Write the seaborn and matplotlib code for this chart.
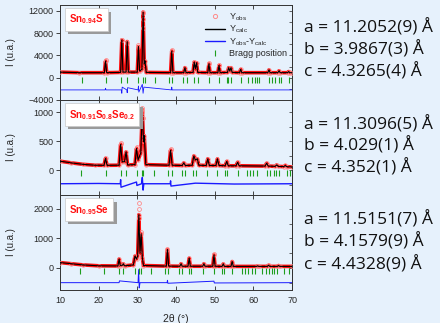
import matplotlib
matplotlib.use("Agg")
import matplotlib.pyplot as plt
import matplotlib.patheffects as pe
from matplotlib.lines import Line2D
import seaborn as sns

# ---- Sn0.94S ----
top_2t = [10, 15, 21.5, 21.8, 22.1, 25.7, 26.0, 26.3, 27.1, 27.4, 27.7, 30.0, 30.3, 30.6,
          31.2, 31.5, 31.8, 32.0, 32.3, 38.6, 38.9, 39.2, 42.0, 42.3, 42.6, 44.4, 44.7, 45.0,
          45.3, 45.6, 48.2, 48.5, 48.8, 50.8, 51.1, 51.4, 53.3, 53.6, 53.9, 54.2, 54.5,
          56.4, 56.7, 57.0, 63.7, 64.0, 64.3, 66.3, 66.6, 66.9, 68.8, 69.1, 69.4, 70]
top_i = [1000, 900, 900, 3000, 900, 950, 6800, 1000, 1000, 6500, 1000, 1000, 5600, 1200,
         1500, 11800, 2500, 3000, 950, 900, 4800, 900, 900, 1800, 900, 950, 2800, 1600,
         2700, 950, 900, 2500, 900, 900, 2200, 900, 950, 1800, 1200, 1800, 950,
         900, 1500, 900, 900, 1400, 900, 900, 1250, 900, 900, 1100, 900, 900]
top_obs_2t = [21.8, 26.0, 27.4, 30.3, 31.4, 31.5, 31.6, 38.9, 44.7, 48.5, 51.1]
top_obs_i = [3100, 6700, 6300, 5800, 10500, 11700, 9000, 5000, 2900, 2600, 2300]
top_diff_2t = [10, 21.7, 21.8, 21.9, 25.9, 26.0, 26.1, 27.3, 27.4, 27.5, 30.2, 30.3, 30.4,
               31.3, 31.5, 31.7, 38.8, 38.9, 39.0, 70]
top_diff_i = [-2200, -2200, -1900, -2200, -2200, -2800, -1700, -2200, -2700, -1800, -2200,
              -1500, -2600, -1200, -2800, -1700, -2200, -1700, -2200, -2200]
top_bragg = [15.8, 21.8, 25.9, 27.4, 30.3, 31.5, 32.0, 34.6, 38.3, 39.0, 41.7, 42.8, 44.7,
             45.6, 48.5, 51.0, 53.1, 53.5, 54.1, 56.7, 58.7, 59.6, 60.3, 60.9, 61.5, 63.9,
             64.7, 65.6, 66.5, 67.2, 69.1, 69.9]

# ---- Sn0.91S0.8Se0.2 ----
mid_2t = [10, 13, 16, 19, 21.4, 21.8, 22.2, 25.3, 25.7, 26.1, 26.7, 27.1, 27.5, 29.4, 29.8,
          30.2, 30.9, 31.3, 31.6, 31.8, 32.2, 38.2, 38.6, 39.0, 41.6, 42.0, 42.4, 44.2, 44.6,
          45.0, 45.5, 45.9, 47.8, 48.2, 48.6, 50.3, 50.7, 51.1, 52.7, 53.1, 53.5, 55.5, 55.9,
          56.3, 63.0, 63.4, 63.8, 65.6, 66.0, 66.4, 67.8, 68.2, 68.6, 70]
mid_i = [160, 130, 105, 90, 88, 210, 88, 90, 450, 150, 150, 320, 95, 100, 380,
         180, 300, 1050, 500, 600, 100, 90, 350, 90, 85, 130, 85, 90, 250,
         180, 200, 90, 85, 200, 85, 85, 200, 85, 80, 155, 80, 80, 140,
         80, 75, 125, 75, 70, 95, 70, 65, 85, 65, 60]
mid_obs_2t = [25.7, 29.8, 31.2, 31.3, 31.4, 38.6]
mid_obs_i = [470, 400, 1000, 1070, 900, 370]
mid_diff_2t = [10, 20, 25.6, 25.7, 25.8, 29.8, 29.9, 31.1, 31.3, 31.5, 31.7, 38.5, 38.6,
               38.7, 45, 55, 70]
mid_diff_i = [-230, -225, -230, -160, -290, -200, -260, -230, -120, -340, -230, -230, -180,
              -270, -220, -235, -230]
mid_bragg = [15.4, 21.8, 25.7, 27.1, 29.8, 31.1, 31.5, 34.3, 38.0, 38.9, 41.5, 42.3, 44.3,
             45.1, 47.9, 50.5, 52.7, 53.3, 55.9, 58.3, 59.1, 60.0, 60.9, 63.4, 64.3, 65.2,
             65.8, 66.5, 68.6, 69.5]

# ---- Sn0.95Se ----
bot_2t = [10, 13, 16, 20, 25.0, 25.3, 25.6, 26.2, 26.4, 26.7, 29.0, 29.4, 29.8, 30.1, 30.4,
          30.7, 31.0, 31.3, 31.6, 37.5, 37.8, 38.1, 41.0, 41.3, 41.6, 43.1, 43.4, 43.7, 46.9,
          47.2, 47.5, 49.5, 49.8, 50.1, 51.9, 52.2, 52.5, 54.2, 54.5, 54.8, 60.8, 61.1, 61.4,
          63.6, 63.9, 64.2, 66.2, 66.5, 66.8, 70]
bot_i = [180, 140, 100, 70, 65, 300, 80, 90, 140, 70, 100, 400, 300, 400, 1800,
         500, 1150, 350, 80, 60, 620, 60, 55, 140, 55, 55, 330, 55, 55,
         140, 55, 55, 440, 55, 50, 135, 50, 50, 215, 50, 50, 70, 50,
         50, 90, 50, 50, 80, 50, 50]
bot_obs_2t = [30.35, 30.4, 30.5, 31.0, 37.8, 49.8]
bot_obs_i = [2000, 2200, 1700, 1200, 650, 470]
bot_diff_2t = [10, 25.3, 25.4, 30.2, 30.35, 30.5, 30.7, 37.7, 37.8, 37.9, 49.8, 49.9, 70]
bot_diff_i = [-500, -500, -440, -500, -60, -680, -500, -500, -420, -520, -450, -510, -500]
bot_bragg = [15.2, 21.5, 25.3, 26.4, 29.4, 30.4, 31.0, 33.5, 37.2, 38.0, 40.8, 41.5, 43.4,
             44.0, 47.1, 49.7, 51.8, 52.4, 54.4, 57.0, 57.8, 58.7, 59.6, 60.4, 62.2, 63.2,
             64.0, 64.7, 65.4, 66.0, 68.0, 69.1]

panels = [
    (r"Sn$_{\mathbf{0.94}}$S", top_2t, top_i, top_obs_2t, top_obs_i, top_diff_2t, top_diff_i,
     top_bragg, -400, (-4000, 13100), [-4000, 0, 4000, 8000, 12000], 0.6),
    (r"Sn$_{\mathbf{0.91}}$S$_{\mathbf{0.8}}$Se$_{\mathbf{0.2}}$", mid_2t, mid_i, mid_obs_2t,
     mid_obs_i, mid_diff_2t, mid_diff_i, mid_bragg, -45, (-424, 1217), [0, 500, 1000], 1.0),
    (r"Sn$_{\mathbf{0.95}}$Se", bot_2t, bot_i, bot_obs_2t, bot_obs_i, bot_diff_2t, bot_diff_i,
     bot_bragg, -100, (-750, 2465), [0, 1000, 2000], 0.7),
]

params_txt = [
    ["a = 11.2052(9) Å", "b = 3.9867(3) Å", "c = 4.3265(4) Å"],
    ["a = 11.3096(5) Å", "b = 4.029(1) Å", "c = 4.352(1) Å"],
    ["a = 11.5151(7) Å", "b = 4.1579(9) Å", "c = 4.4328(9) Å"],
]
params_y = [[28, 50, 72], [125, 146, 168], [220, 242, 265]]

bg = "#e6f1fc"
red = "#ff1010"
pink = "#ff8a8a"
green = "#1e9e1e"
blue = "#1a1aff"

sns.set_style("ticks")
plt.rcParams["font.family"] = ["Liberation Sans", "DejaVu Sans"]
plt.rcParams["mathtext.fontset"] = "custom"
plt.rcParams["mathtext.rm"] = "Liberation Sans"
plt.rcParams["mathtext.bf"] = "Liberation Sans:bold"

fig = plt.figure(figsize=(4.4, 3.23), dpi=100, facecolor=bg)
gs = fig.add_gridspec(3, 1, left=0.136, right=0.664, top=0.985, bottom=0.102, hspace=0)

for k, (name, x, y, ox, oy, dx, dy, bragg, blev, ylim, yt, dlw) in enumerate(panels):
    ax = fig.add_subplot(gs[k])
    ax.set_facecolor(bg)
    # observed band
    sns.lineplot(x=x, y=y, ax=ax, sort=False, estimator=None, color=red, lw=2.6, zorder=2)
    ax.plot(x, y, ls="none", marker="o", ms=2.6, mfc="none", mec=pink, mew=0.5, zorder=3)
    ax.plot(ox, oy, ls="none", marker="o", ms=2.8, mfc="none", mec=pink, mew=0.6, zorder=3)
    # calculated
    sns.lineplot(x=x, y=y, ax=ax, sort=False, estimator=None, color="black", lw=0.8, zorder=4)
    # difference
    sns.lineplot(x=dx, y=dy, ax=ax, sort=False, estimator=None, color=blue, lw=dlw, zorder=2)
    # Bragg positions
    ax.plot(bragg, [blev] * len(bragg), ls="none", marker="|", ms=4.5, mew=0.8,
            color=green, zorder=2)

    ax.set_xlim(10, 70)
    ax.set_ylim(*ylim)
    ax.set_yticks(yt)
    ax.set_xticks(range(10, 71, 10))
    ax.tick_params(axis="y", direction="out", length=3, width=0.6, labelsize=6.5, pad=1.5)
    ax.tick_params(axis="x", direction="in", top=True, length=3, width=0.6, labelsize=6.5,
                   pad=4)
    if k < 2:
        ax.tick_params(axis="x", labelbottom=False)
    for s in ax.spines.values():
        s.set_linewidth(0.7)
        s.set_color("#333333")
    sec = ax.secondary_yaxis("right")
    step = (yt[1] - yt[0]) // 2
    sec.set_yticks(list(range(yt[0] - 4 * step, int(ylim[1]) + 1, step)))
    sec.tick_params(direction="in", length=2, width=0.5, labelright=False)
    sec.spines["right"].set_linewidth(0.7)
    ax.set_ylabel("I (u.a.)", fontsize=7)
    ax.yaxis.set_label_coords(-0.19, 0.5)

    # sample label box with shadow
    t = ax.text(0.04, 0.845, name, transform=ax.transAxes, fontsize=7, fontweight="bold",
                color=red, va="center", ha="left", zorder=6,
                bbox=dict(boxstyle="square,pad=0.45", fc="white", ec="#c8c8c8", lw=0.5))
    t.get_bbox_patch().set_path_effects([
        pe.SimplePatchShadow(offset=(2.5, -2.5), shadow_rgbFace="#9a9a9a", alpha=1.0),
        pe.Normal()])

    if k == 0:
        handles = [
            Line2D([], [], ls="none", marker="o", ms=3, mfc="none", mec=pink, mew=0.7),
            Line2D([], [], color="black", lw=1),
            Line2D([], [], color=blue, lw=1),
            Line2D([], [], ls="none", marker="|", ms=4.5, mew=0.8, color=green),
        ]
        labels = [r"Y$_{\rm obs}$", r"Y$_{\rm calc}$", r"Y$_{\rm obs}$-Y$_{\rm calc}$",
                  "Bragg position"]
        ax.legend(handles, labels, loc="upper right", bbox_to_anchor=(1.0, 0.99),
                  frameon=False, fontsize=6.5, handlelength=2.2, handletextpad=0.4,
                  labelspacing=0.12, borderaxespad=0.2)
    if k == 2:
        ax.set_xlabel("2θ (°)", fontsize=7.5, labelpad=7)

for txts, ys in zip(params_txt, params_y):
    for tx, yy in zip(txts, ys):
        fig.text(304 / 440, 1 - yy / 323, tx, fontsize=12.5, va="center", ha="left",
                 family=["Open Sans", "DejaVu Sans"], color="#111111")

fig.savefig("out.png", dpi=100, facecolor=bg)
